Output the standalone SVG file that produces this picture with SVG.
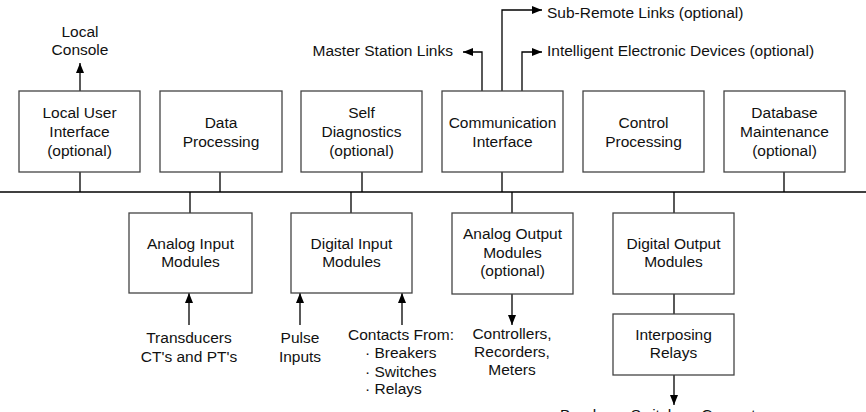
<svg xmlns="http://www.w3.org/2000/svg" width="866" height="412" viewBox="0 0 866 412">
<style>
.box{fill:#fff;stroke:#444;stroke-width:1.3}
.ln{fill:none;stroke:#000;stroke-width:1.3}
.bus{fill:none;stroke:#000;stroke-width:1.5}
text{font-family:"Liberation Sans",Arial,sans-serif;font-size:15.5px;fill:#111}
.c{text-anchor:middle}
.e{text-anchor:end}
</style>
<defs>
<marker id="ah" markerUnits="userSpaceOnUse" markerWidth="10" markerHeight="8" refX="10" refY="4" orient="auto">
<path d="M0,0 L10,4 L0,8 z" fill="#000"/>
</marker>
</defs>
<rect width="866" height="412" fill="#fff"/>
<g id="connectors">
<line class="bus" x1="0" y1="192" x2="866" y2="192"/>
<path class="ln" d="M80,172V192M220,172V192M362,172V192M502,172V192M784,172V192"/>
<path class="ln" d="M190,192V213M351,192V213M512,192V213M674,192V213M674,294V314"/>
<path class="ln" d="M80,91V63" marker-end="url(#ah)"/>
<path class="ln" d="M482,91V52H463" marker-end="url(#ah)"/>
<path class="ln" d="M502,91V10H542" marker-end="url(#ah)"/>
<path class="ln" d="M522,91V52H542" marker-end="url(#ah)"/>
<path class="ln" d="M189,325V293" marker-end="url(#ah)"/>
<path class="ln" d="M300,325V293" marker-end="url(#ah)"/>
<path class="ln" d="M402,325V293" marker-end="url(#ah)"/>
<path class="ln" d="M512,294V325" marker-end="url(#ah)"/>
<path class="ln" d="M674,375V405" marker-end="url(#ah)"/>
</g>
<g id="lui"><rect class="box" x="19" y="91" width="121" height="81"/><text class="c" x="79.5" y="118">Local User</text><text class="c" x="79.5" y="137">Interface</text><text class="c" x="79.5" y="155.5">(optional)</text></g>
<g id="dp"><rect class="box" x="160" y="91" width="122" height="81"/><text class="c" x="221" y="128">Data</text><text class="c" x="221" y="147">Processing</text></g>
<g id="sd"><rect class="box" x="301" y="91" width="121" height="81"/><text class="c" x="361.5" y="118">Self</text><text class="c" x="361.5" y="137">Diagnostics</text><text class="c" x="361.5" y="155.5">(optional)</text></g>
<g id="ci"><rect class="box" x="442" y="91" width="121" height="81"/><text class="c" x="502.5" y="128">Communication</text><text class="c" x="502.5" y="147">Interface</text></g>
<g id="cp"><rect class="box" x="583" y="91" width="121" height="81"/><text class="c" x="643.5" y="128">Control</text><text class="c" x="643.5" y="147">Processing</text></g>
<g id="db"><rect class="box" x="724" y="91" width="121" height="81"/><text class="c" x="784.5" y="118">Database</text><text class="c" x="784.5" y="137">Maintenance</text><text class="c" x="784.5" y="155.5">(optional)</text></g>
<g id="ai"><rect class="box" x="129" y="213" width="123" height="80"/><text class="c" x="190.5" y="249">Analog Input</text><text class="c" x="190.5" y="267">Modules</text></g>
<g id="di"><rect class="box" x="291" y="213" width="121" height="80"/><text class="c" x="351.5" y="249">Digital Input</text><text class="c" x="351.5" y="267">Modules</text></g>
<g id="ao"><rect class="box" x="452" y="213" width="121" height="81"/><text class="c" x="512.5" y="239">Analog Output</text><text class="c" x="512.5" y="258">Modules</text><text class="c" x="512.5" y="276">(optional)</text></g>
<g id="do"><rect class="box" x="613" y="213" width="121" height="81"/><text class="c" x="673.5" y="249">Digital Output</text><text class="c" x="673.5" y="267">Modules</text></g>
<g id="ir"><rect class="box" x="613" y="314" width="121" height="61"/><text class="c" x="673.5" y="340">Interposing</text><text class="c" x="673.5" y="358">Relays</text></g>
<g id="labels">
<text class="c" x="80" y="37">Local</text><text class="c" x="80" y="55">Console</text>
<text class="e" x="453" y="56">Master Station Links</text>
<text x="547" y="17.5">Sub-Remote Links (optional)</text>
<text x="547" y="56">Intelligent Electronic Devices (optional)</text>
<text class="c" x="189" y="343">Transducers</text><text class="c" x="189" y="362">CT's and PT's</text>
<text class="c" x="300" y="343">Pulse</text><text class="c" x="300" y="362">Inputs</text>
<text x="348" y="340">Contacts From:</text>
<text x="365" y="357.5">· Breakers</text>
<text x="365" y="377">· Switches</text>
<text x="365" y="394">· Relays</text>
<text class="c" x="512" y="339">Controllers,</text><text class="c" x="512" y="357">Recorders,</text><text class="c" x="512" y="375">Meters</text>
<text x="560" y="420">Breakers, Switches, Converters</text>
</g>
</svg>
